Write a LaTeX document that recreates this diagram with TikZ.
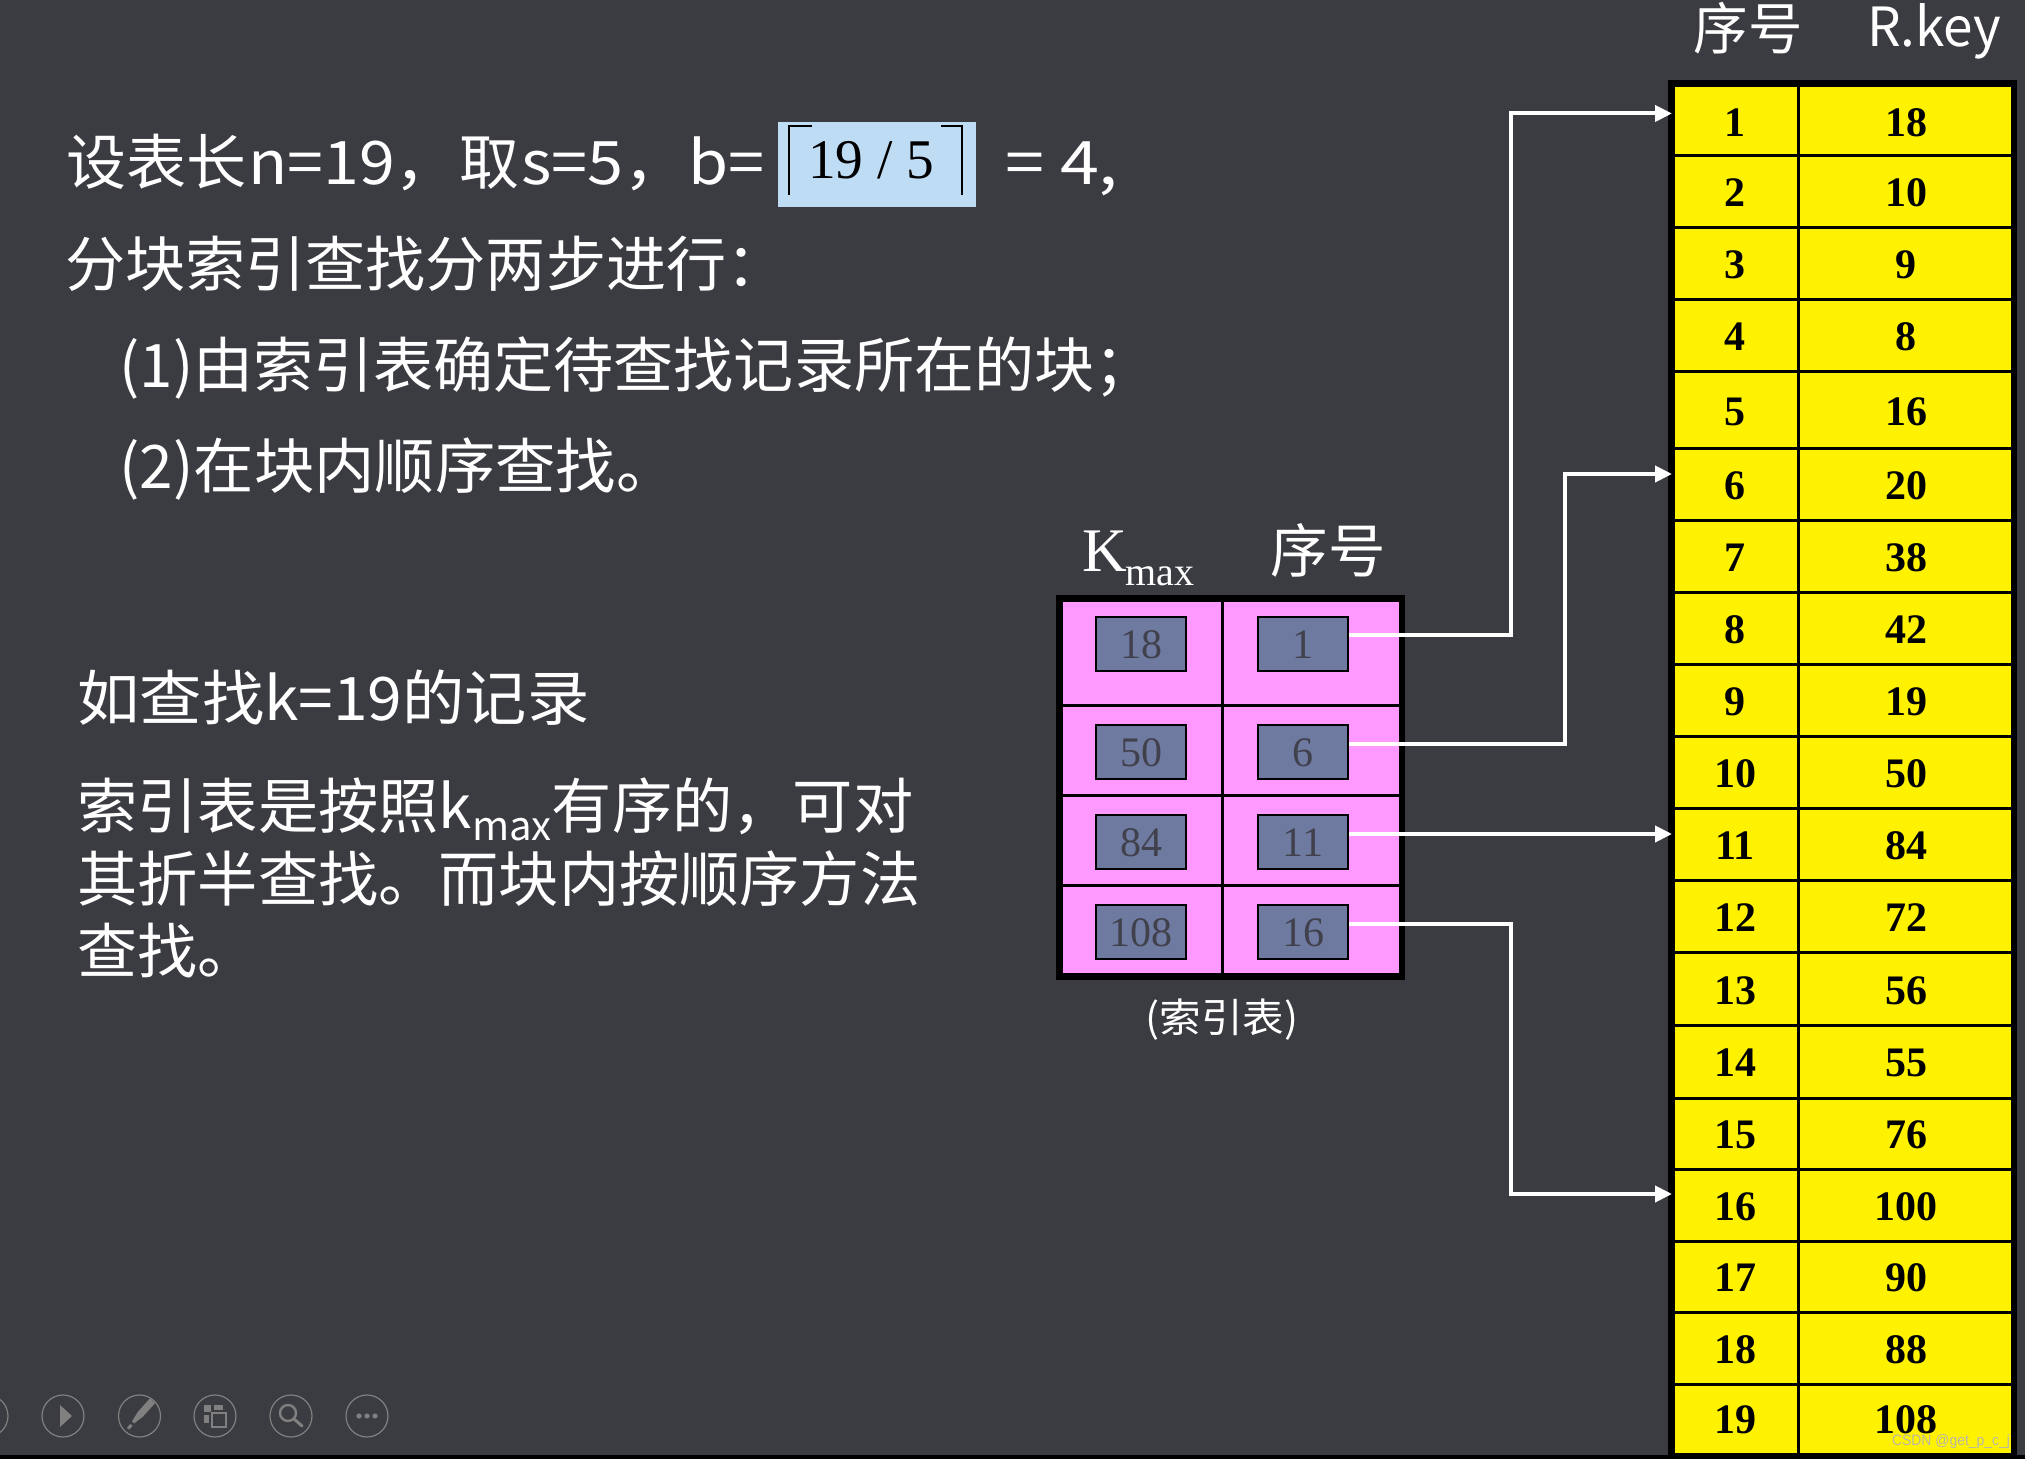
\documentclass[tikz,border=0pt]{standalone}
\usepackage{graphicx}
\usepackage{fontspec}
\setmainfont{Liberation Serif}
\newfontfamily\cjk{Noto Sans CJK SC}
\newfontfamily\lib{Liberation Sans}
\usetikzlibrary{arrows.meta}
\definecolor{bgc}{HTML}{3B3C41}
\definecolor{mag}{HTML}{FF99FF}
\definecolor{slatec}{HTML}{6F7AA0}
\definecolor{numc}{HTML}{40414C}
\definecolor{hl}{HTML}{BFDCF5}
\definecolor{icon}{HTML}{808080}
\definecolor{wmc}{HTML}{B8B8A8}
\newcommand{\fitw}[2]{\resizebox{\dimexpr #1pt/2\relax}{\height}{#2}}
\tikzset{
 lbl/.style={anchor=base west,inner sep=0pt,text=white,font=\cjk\fontsize{30pt}{30pt}\selectfont},
 rnum/.style={inner sep=0pt,text=black,font=\bfseries\fontsize{21pt}{21pt}\selectfont,text height=15pt,text depth=0pt},
 ibox/.style={draw=black,line width=1.1pt,fill=slatec,minimum width=45pt,minimum height=27pt,inner sep=0pt,text=numc,font=\fontsize{21pt}{21pt}\selectfont,text height=15pt,text depth=0pt},
 conn/.style={draw=white,line width=2pt},
 arrowc/.style={conn,-{Triangle[length=8.5pt,width=8pt,fill=white]}},
 grid/.style={draw=black,line width=1.5pt},
 ic/.style={draw=icon,line width=0.6pt},
}
\begin{document}
\begin{tikzpicture}[x=0.5pt,y=-0.5pt]
\useasboundingbox (0,0) rectangle (2025,1459);
\fill[bgc] (0,0) rectangle (2025,1459);
\fill[black] (0,1455) rectangle (2025,1459);

% text block
\node[lbl] (t1a) at (66,185) {设表长};
\node[lbl] (t1c) at (248,185) {\fitw{211}{n=19，}};
\node[lbl] (t1d) at (459,185) {取};
\node[lbl] (t1e) at (521,185) {\fitw{167}{s=5，}};
\node[lbl] (t1f) at (688,185) {\fitw{76}{b=}};
\fill[hl] (778,122) rectangle (976,207);
\node[anchor=base,inner sep=0pt,text=black,font=\fontsize{28pt}{28pt}\selectfont] (frac) at (871,179) {\fitw{126}{19 / 5}};
\draw[black,line width=1pt] (812,126) -- (789,126) -- (789,195);
\draw[black,line width=1pt] (941,126) -- (962,126) -- (962,195);
\node[lbl] (t1b) at (1005,185) {\fitw{113}{= 4,}};
\node[lbl] (t2) at (65,287) {\fitw{721}{分块索引查找分两步进行：}};
\node[lbl] (t3) at (119,388) {\fitw{1035}{(1)由索引表确定待查找记录所在的块；}};
\node[lbl] (t4) at (119,489) {\fitw{557}{(2)在块内顺序查找。}};
\node[lbl] (t5) at (77,721) {\fitw{512}{如查找k=19的记录}};
\node[lbl] (t6) at (77,829) {\fitw{836}{索引表是按照k\lower6pt\hbox{\fontsize{20pt}{20pt}\selectfont max}有序的，可对}};
\node[lbl] (t7) at (77,902) {\fitw{843}{其折半查找。而块内按顺序方法}};
\node[lbl] (t8) at (77,973) {查找。};

% index table
\fill[black] (1056,595) rectangle (1405,980);
\fill[mag] (1063,602) rectangle (1399,973);
\draw[grid] (1222,602) -- (1222,973);
\foreach \y in {706,796,886} \draw[grid] (1063,\y) -- (1399,\y);
\foreach \n/\y/\a/\b in {1/644/18/1,2/752/50/6,3/842/84/11,4/932/108/16}{
  \node[ibox] (ka\n) at (1141,\y) {\a};
  \node[ibox] (kb\n) at (1303,\y) {\b};
}
\node[anchor=base west,inner sep=0pt,text=white,font=\fontsize{31pt}{31pt}\selectfont] (kmax) at (1082,572) {K};
\node[anchor=base west,inner sep=0pt,text=white,font=\fontsize{20pt}{20pt}\selectfont] (kmaxs) at (1125,586) {max};
\node[inner sep=0pt,text=white,font=\cjk\fontsize{29pt}{29pt}\selectfont] (h2) at (1328,550) {\fitw{115}{序号}};
\node[inner sep=0pt,text=white,font=\cjk\fontsize{20pt}{20pt}\selectfont] (cap) at (1222,1020) {\fitw{153}{(索引表)}};

% records table
\fill[black] (1668,80) rectangle (2017,1459);
\fill[yellow] (1675,87) rectangle (2011,1453);
\draw[grid] (1798,87) -- (1798,1453);
\foreach \y in {156,228,300,372,449,520.5,593,665,737,808.5,881,953,1025,1098,1169,1241,1312,1384}
  \draw[grid] (1675,\y) -- (2011,\y);
\foreach \n/\t/\b/\k in {1/87/156/18,2/156/228/10,3/228/300/9,4/300/372/8,5/372/449/16,6/449/520.5/20,7/520.5/593/38,8/593/665/42,9/665/737/19,10/737/808.5/50,11/808.5/881/84,12/881/953/72,13/953/1025/56,14/1025/1098/55,15/1098/1169/76,16/1169/1241/100,17/1241/1312/90,18/1312/1384/88,19/1384/1453/108}{
  \node[rnum] (rn\n) at (1735,{(\t+\b)/2}) {\n};
  \node[rnum] (rk\n) at (1906,{(\t+\b)/2}) {\k};
}
\node[inner sep=0pt,text=white,font=\cjk\fontsize{28pt}{28pt}\selectfont] (h3) at (1748,28) {\fitw{109}{序号}};
\node[anchor=base,inner sep=0pt,text=white,font=\cjk\fontsize{27pt}{27pt}\selectfont] (h4) at (1934,47) {\fitw{134}{R.key}};
\node[inner sep=0pt,text=wmc,font=\lib\fontsize{7.6pt}{7.6pt}\selectfont] (wm) at (1951,1442) {\fitw{118}{CSDN @get\_p\_c\_j}};

% connectors
\coordinate (s1) at (1349,635); \coordinate (e1) at (1672,113.5);
\coordinate (s2) at (1349,744); \coordinate (e2) at (1672,474);
\coordinate (s3) at (1349,834); \coordinate (e3) at (1672,834);
\coordinate (s4) at (1349,924); \coordinate (e4) at (1672,1194);
\draw[arrowc] (s1) -- (1511,635) -- (1511,113.5) -- (e1);
\draw[arrowc] (s2) -- (1565,744) -- (1565,474) -- (e2);
\draw[arrowc] (s3) -- (e3);
\draw[arrowc] (s4) -- (1511,924) -- (1511,1194) -- (e4);

% toolbar icons
\foreach \n/\x in {a/-13,b/63,c/139.5,d/215,e/291,f/367}
  \draw[ic] (\x,1416) circle[radius=21];
\fill[icon] (60,1405) -- (72,1416) -- (60,1427) -- cycle;
\begin{scope}[shift={(139.5,1416)},rotate=48]
 \fill[icon] (-9,-2) -- (2,-4) -- (20,-4) -- (20,3) -- (2,3) -- (-9,1) -- cycle;
 \fill[icon] (-17,-1.5) rectangle (-12,1.5);
\end{scope}
\fill[icon] (204,1405) rectangle (211,1412);
\fill[icon] (214,1405) rectangle (223,1410);
\fill[icon] (204,1415) rectangle (209,1423);
\draw[icon,line width=1pt] (212,1413) rectangle (226,1427);
\draw[icon,line width=1.2pt] (288,1413) circle[radius=8];
\draw[icon,line width=1.5pt,line cap=round] (294,1419) -- (302,1426);
\foreach \x in {359,367,375} \fill[icon] (\x,1416) circle[radius=2.6];
\end{tikzpicture}
\end{document}
